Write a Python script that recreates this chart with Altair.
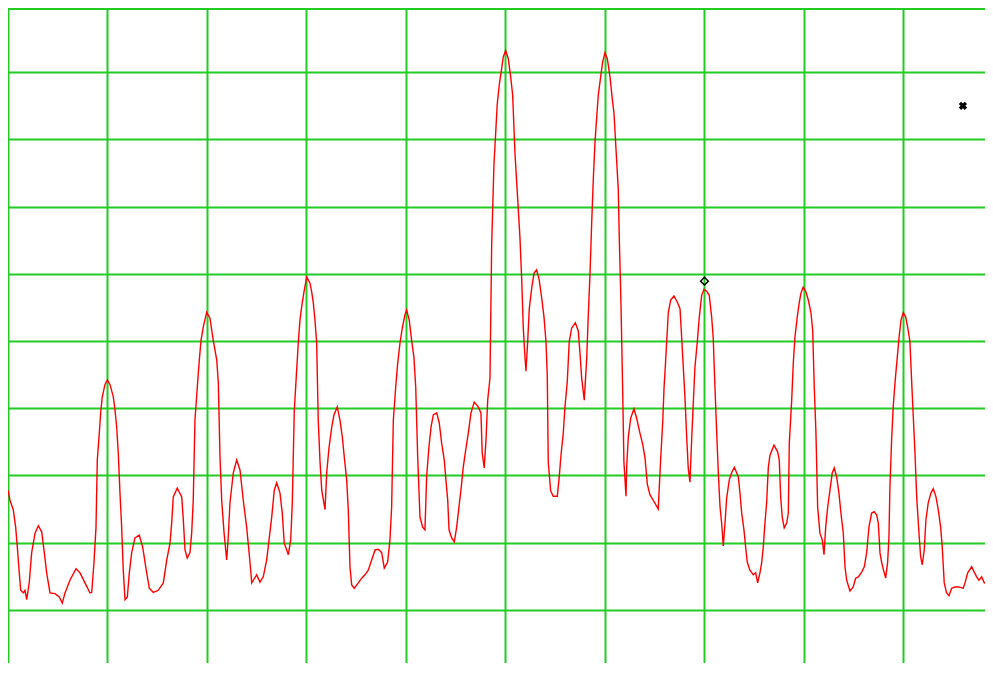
import altair as alt
import pandas as pd

GREEN = "#22cc22"
RED = "#ff0000"

# Trace, frequency in MHz (100 MHz / div), level in dBm (10 dB / div)
freq_a = [0.0, 2.0, 5.3, 7.7, 9.4, 11.1, 12.8, 15.4, 17.1, 18.8,
          21.4, 23.8, 27.2, 30.5, 33.9, 36.5, 38.9, 42.2, 47.3, 51.6,
          54.6, 57.3, 62.3, 68.4, 72.4, 77.4, 82.5, 84.2, 86.5, 88.5,
          89.8, 91.8, 93.2, 94.8, 97.5, 99.9, 102.6, 105.9, 107.6, 109.3,
          110.9, 112.6, 114.3, 115.9, 117.7, 120.0, 122.0, 124.4, 127.7, 132.0,
          135.5, 138.5, 142.1, 146.1, 151.1, 156.2, 159.6, 162.9, 164.6, 166.2,
          170.2, 174.7, 176.3, 178.0, 180.3, 183.0, 184.7, 186.3, 188.0, 190.4,
          192.4, 194.1, 196.4, 199.8, 203.1, 206.4, 209.9, 211.5, 213.2, 214.9,
          217.2, 219.9, 221.5, 223.2, 226.6, 230.0, 233.3, 236.6, 240.0]
level_a = [-72.2, -73.7, -75.1, -77.7, -80.7, -84.1, -87.1, -87.5, -87.1, -88.5,
           -85.9, -81.5, -78.6, -77.5, -78.4, -81.5, -84.5, -87.5, -87.6, -88.1,
           -89.0, -87.5, -85.6, -83.9, -84.5, -86.0, -87.5, -87.4, -82.9, -77.7,
           -67.7, -63.7, -60.7, -58.3, -56.5, -55.8, -56.5, -58.3, -60.3, -62.8,
           -66.7, -72.6, -77.7, -84.1, -88.5, -88.1, -84.5, -81.5, -79.3, -78.9,
           -80.7, -83.6, -86.8, -87.4, -87.1, -86.0, -82.6, -80.1, -77.1, -73.2,
           -71.9, -73.2, -76.6, -81.1, -82.3, -81.5, -78.6, -73.7, -61.8, -56.8,
           -52.8, -49.9, -47.9, -45.7, -46.6, -49.9, -52.8, -56.2, -67.3, -73.7,
           -78.4, -82.6, -79.2, -74.1, -69.6, -67.7, -69.2, -73.7, -77.7]

freq_b = [243.4, 245.1, 250.1, 253.4, 256.7, 260.1, 262.5, 265.2, 267.8, 270.2,
          273.5, 275.8, 277.8, 280.3, 281.9, 284.3, 285.9, 287.9, 290.3, 291.9,
          293.6, 295.9, 298.0, 300.4, 303.7, 305.4, 307.0, 308.7, 310.4, 312.0,
          313.7, 315.5, 318.8, 320.5, 322.8, 325.5, 327.8, 331.1, 333.9, 336.2,
          338.2, 340.6, 342.2, 343.9, 345.6, 348.2, 352.3, 355.7, 359.0, 362.3,
          365.7, 369.1, 372.4, 375.8, 378.4, 381.8, 384.1, 385.8, 387.5, 389.9,
          391.9, 394.2, 396.5, 399.2, 400.9, 403.5, 405.9, 408.2, 410.0, 412.0,
          414.3, 417.0, 419.3, 421.0, 423.3, 425.4, 427.7, 431.1, 433.7, 436.1,
          438.7, 440.4, 442.2, 443.5, 446.2, 448.8, 451.2, 453.5, 455.5, 457.8,
          460.3, 462.9, 465.6, 468.9, 472.9, 475.6, 476.9, 478.9, 480.7, 482.4]
level_b = [-83.0, -86.0, -84.8, -85.9, -85.1, -82.6, -79.6, -76.2, -72.2, -71.1,
           -72.6, -75.6, -80.1, -81.1, -81.8, -79.6, -74.1, -60.3, -54.3, -50.3,
           -46.9, -44.3, -42.4, -40.5, -41.4, -42.7, -44.3, -46.9, -50.3, -61.8,
           -67.7, -72.2, -75.1, -69.6, -65.9, -62.9, -61.0, -59.8, -61.8, -64.3,
           -67.3, -70.7, -75.1, -83.6, -86.3, -86.8, -86.0, -85.3, -84.8, -84.1,
           -82.6, -81.1, -81.0, -81.5, -83.8, -82.9, -79.6, -74.7, -61.8, -56.8,
           -53.3, -50.3, -48.1, -46.1, -45.4, -46.9, -49.9, -52.4, -56.8, -67.3,
           -76.2, -77.7, -78.1, -70.2, -65.8, -62.8, -61.0, -60.7, -62.2, -65.2,
           -67.7, -70.7, -73.7, -78.1, -79.3, -79.9, -77.7, -74.7, -72.2, -68.8,
           -66.2, -63.7, -60.7, -59.1, -59.8, -60.7, -66.7, -68.9, -64.7, -58.8]

freq_c = [484.7, 486.4, 488.7, 490.7, 492.0, 494.1, 496.5, 498.1, 500.5, 503.1,
          505.5, 507.5, 509.8, 512.2, 514.8, 516.6, 518.2, 519.9, 520.9, 522.6,
          524.2, 526.7, 529.0, 531.6, 534.2, 536.7, 539.0, 541.0, 542.3, 543.3,
          545.7, 548.3, 552.4, 554.4, 556.1, 558.4, 560.1, 562.4, 564.4, 566.8,
          570.5, 573.5, 575.2, 576.9, 579.5, 581.9, 583.5, 585.3, 587.0, 588.6,
          590.3, 592.0, 593.6, 596.0, 598.0, 600.3, 602.7, 605.4, 607.7, 609.4,
          611.4, 613.7, 614.7, 616.4, 618.1, 619.4, 621.5, 622.2, 623.8, 626.2,
          629.5, 632.2, 635.5, 638.2, 640.6, 642.9, 645.6, 648.9, 653.9, 656.4,
          658.4, 659.7, 661.4, 664.0, 666.4, 669.7, 673.0, 675.8, 677.5, 679.1,
          680.8, 682.5, 684.1, 685.8, 687.5, 689.1, 690.8, 693.2, 695.2, 697.6,
          699.9, 702.6, 705.2, 707.6, 709.2, 711.0, 712.7, 714.3, 716.0, 717.7,
          719.3, 721.0, 722.7, 725.3, 727.7, 730.4]
level_c = [-55.5, -35.6, -23.7, -18.3, -14.7, -11.8, -9.4, -7.7, -6.8, -8.0,
           -10.7, -13.4, -22.0, -28.0, -34.5, -40.9, -48.1, -52.4, -54.5, -50.1,
           -45.2, -42.1, -39.9, -39.4, -40.9, -43.6, -46.4, -50.1, -55.1, -68.0,
           -72.3, -73.1, -73.1, -70.1, -67.0, -63.7, -59.8, -56.1, -50.1, -48.1,
           -47.3, -48.5, -51.8, -55.5, -58.8, -52.8, -46.4, -39.9, -32.3, -25.9,
           -20.4, -16.7, -13.4, -10.7, -8.5, -7.1, -8.0, -10.7, -14.0, -16.1,
           -21.4, -27.4, -34.5, -44.2, -57.1, -68.0, -73.1, -68.6, -64.3, -61.5,
           -60.1, -61.5, -63.7, -65.3, -67.4, -71.3, -72.9, -73.7, -75.0, -67.4,
           -62.1, -57.1, -52.8, -45.8, -43.9, -43.3, -44.2, -45.2, -49.6, -53.9,
           -58.5, -64.3, -69.0, -71.0, -64.7, -59.4, -53.9, -50.1, -46.4, -43.2,
           -42.3, -42.6, -43.2, -46.4, -49.6, -57.1, -63.7, -69.6, -74.6, -77.2,
           -80.5, -77.2, -73.4, -70.7, -69.6, -68.8]

freq_d = [734.4, 736.1, 737.8, 740.1, 741.8, 743.4, 746.1, 749.5, 751.9, 753.9,
          756.2, 757.9, 759.5, 761.2, 762.9, 764.6, 766.3, 770.3, 774.0, 775.6,
          777.0, 778.6, 780.6, 783.1, 784.7, 785.7, 788.1, 789.7, 791.4, 793.7,
          795.7, 797.4, 799.7, 802.5, 804.8, 807.5, 809.2, 810.8, 812.5, 814.2,
          816.5, 818.9, 820.6, 822.3, 824.3, 826.6, 828.9, 830.9, 833.3, 835.6,
          837.6, 840.0, 841.7, 843.4, 846.7, 850.0, 852.4, 855.1, 858.5, 861.1,
          863.5, 865.8, 868.5, 871.1, 873.6, 875.2, 876.9, 878.6, 881.2, 882.6,
          884.6, 885.9, 886.9, 888.6, 890.2, 892.0, 894.3, 896.0, 898.0, 900.3,
          902.7, 904.7, 907.0, 908.8, 910.4, 912.1, 913.8, 916.1, 917.8, 919.4,
          921.4, 923.1, 925.4, 928.2, 930.5, 933.2, 935.5, 937.9, 939.5, 941.5,
          943.9, 946.3, 949.0, 952.3, 955.6, 960.6, 962.4, 965.1, 969.1, 971.7,
          974.1, 976.4, 979.1, 981.8, 984.2, 985.8, 987.5, 989.2, 990.5]
level_d = [-70.2, -72.6, -75.6, -78.1, -80.7, -82.9, -84.1, -84.8, -84.5, -86.0,
           -84.5, -83.0, -80.7, -77.1, -74.1, -68.8, -67.0, -65.5, -66.5, -67.7,
           -73.2, -76.2, -77.8, -77.1, -75.6, -65.2, -58.8, -53.3, -49.4, -46.4,
           -44.3, -42.9, -42.0, -42.7, -43.9, -45.8, -48.4, -56.8, -63.7, -74.7,
           -78.6, -79.6, -81.8, -77.7, -74.7, -72.2, -69.6, -68.9, -70.2, -72.6,
           -75.6, -78.6, -83.6, -85.6, -87.2, -86.6, -85.3, -85.1, -84.4, -83.6,
           -81.5, -77.7, -75.6, -75.4, -75.9, -77.1, -81.5, -83.0, -84.5, -85.3,
           -82.9, -79.2, -71.7, -64.7, -59.8, -56.2, -52.4, -49.6, -46.9, -45.8,
           -46.4, -47.9, -50.1, -56.2, -61.3, -66.7, -73.2, -78.6, -82.1, -83.3,
           -81.1, -76.6, -74.1, -72.6, -72.0, -73.2, -75.1, -77.7, -80.7, -86.0,
           -87.5, -87.9, -86.8, -86.6, -86.6, -86.8, -86.0, -84.5, -83.6, -84.4,
           -85.1, -85.6, -85.1, -86.0, -85.9, -84.1, -80.1, -72.6, -67.7]

# Markers
marker_freq = [700.4]
marker_level = [-41.1]
delta_freq = [960.3]
delta_level = [-15.0]

# Screen: 100 MHz/div, 10 dB/div
x_grid = [0, 100, 200, 300, 400, 500, 600, 700, 800, 900]
y_grid = [-90, -80, -70, -60, -50, -40, -30, -20, -10]

freq = freq_a + freq_b + freq_c + freq_d
level = level_a + level_b + level_c + level_d
assert len(freq) == len(level)

df = pd.DataFrame({"freq": freq, "level": level, "idx": list(range(len(freq)))})
mk = pd.DataFrame({"freq": marker_freq, "level": marker_level})
dl = pd.DataFrame({"freq": delta_freq, "level": delta_level})
frame = pd.DataFrame({"k": [0]})

W, H = 977, 655
xs = alt.Scale(domain=[0, 982.5], nice=False, zero=False)
ys = alt.Scale(domain=[-97.92, -0.446], nice=False, zero=False)

x_axis = alt.Axis(values=x_grid, grid=True, gridColor=GREEN, gridWidth=2,
                  gridOpacity=1, labels=False, ticks=False, domain=False, title=None)
y_axis = alt.Axis(values=y_grid, grid=True, gridColor=GREEN, gridWidth=2,
                  gridOpacity=1, labels=False, ticks=False, domain=False, title=None)

trace = alt.Chart(df).mark_line(color=RED, strokeWidth=1.4, clip=True).encode(
    x=alt.X("freq:Q", scale=xs, axis=x_axis),
    y=alt.Y("level:Q", scale=ys, axis=y_axis),
    order="idx:Q",
)

top_edge = alt.Chart(frame).mark_rule(color=GREEN, strokeWidth=2).encode(
    y=alt.value(1)
)

marker = alt.Chart(mk).mark_point(shape="diamond", filled=False, color="black",
                                  strokeWidth=1.5, size=60, opacity=1).encode(
    x=alt.X("freq:Q", scale=xs), y=alt.Y("level:Q", scale=ys)
)

delta = alt.Chart(dl).mark_point(shape="cross", angle=45, filled=True, color="black",
                                 size=70, opacity=1).encode(
    x=alt.X("freq:Q", scale=xs), y=alt.Y("level:Q", scale=ys)
)

chart = alt.layer(trace, top_edge, marker, delta).properties(
    width=W, height=H,
    autosize=alt.AutoSizeParams(type="none"),
    padding={"left": 0, "right": 0, "top": 0, "bottom": 0},
    background="white",
).configure_view(stroke=None)

chart.save("out.html", embed_options={"renderer": "svg", "actions": False})
